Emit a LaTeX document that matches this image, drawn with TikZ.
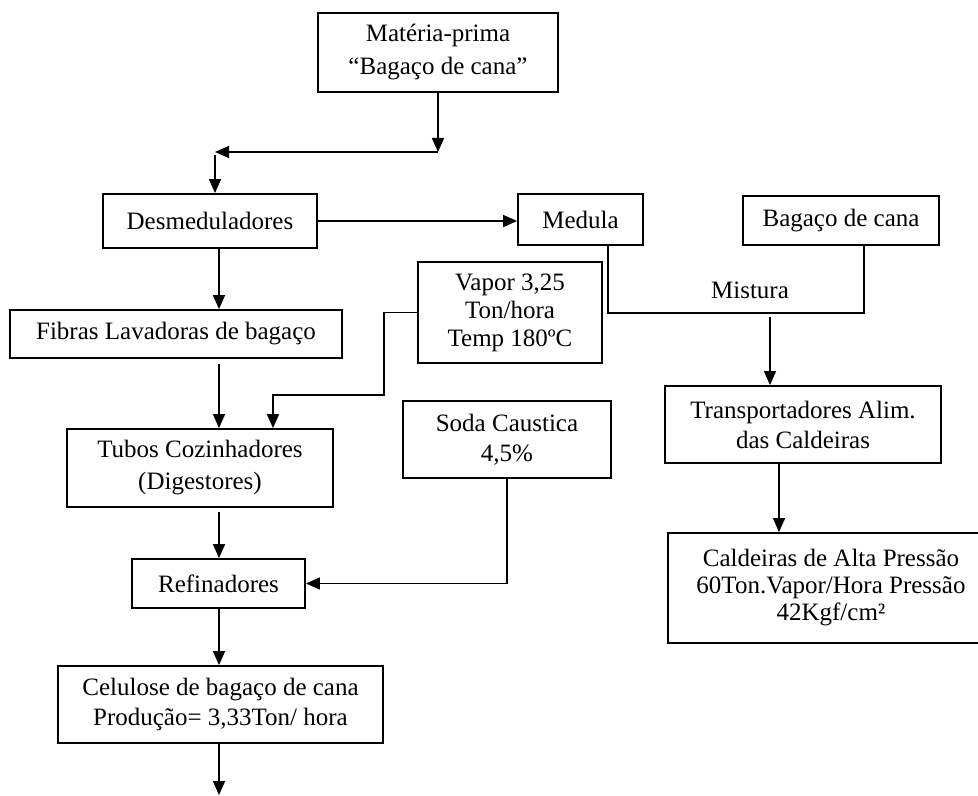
\documentclass[tikz,border=0pt]{standalone}
\usepackage{fontspec}
\setmainfont{Liberation Serif}
\usetikzlibrary{arrows.meta}

\tikzset{
	box/.style={rectangle, draw, line width=0.9pt, inner sep=0pt, align=center, font=\fontsize{12.5}{15}\selectfont},
	lbl/.style={inner sep=0pt, font=\fontsize{12.5}{15}\selectfont},
	flow/.style={line width=0.8pt, -{Triangle[length=7pt, width=6pt]}},
	link/.style={line width=0.8pt},
}

\begin{document}
\begin{tikzpicture}[x=0.5pt, y=-0.5pt, node distance=50pt]
			\useasboundingbox (0,0) rectangle (978,796);

			\node[box, minimum width=120pt, minimum height=39.5pt, font=\fontsize{12.5}{16.5}\selectfont] (mp) at (438,52.5) {Matéria-prima\\“Bagaço de cana”};
			\node[box, minimum width=107pt, minimum height=27pt] (desm)[below of = mp, xshift=-114, yshift=-34.25] {Desmeduladores};
			\node[box, minimum width=62.5pt, minimum height=25.5pt] (medula)[right of = desm, xshift=135.25, yshift=0.75] {Medula};
			\node[box, minimum width=98pt, minimum height=24.5pt] (bagaco)[right of = medula, xshift=80.25, yshift=-0.5] {Bagaço de cana};
			\node[box, minimum width=166pt, minimum height=24pt] (fibras)[below of = desm, xshift=-17, yshift=-6.5] {Fibras Lavadoras de bagaço};
			\node[box, minimum width=92pt, minimum height=50.5pt, font=\fontsize{12.5}{14}\selectfont] (vapor)[below of = medula, xshift=-35.25, yshift=3.5] {Vapor 3,25\\Ton/hora\\Temp 180ºC};
			\node[box, minimum width=133pt, minimum height=39pt, font=\fontsize{12.5}{16}\selectfont] (tubos)[below of = fibras, xshift=12, yshift=-17] {Tubos Cozinhadores\\(Digestores)};
			\node[box, minimum width=104pt, minimum height=38.5pt] (soda)[below of = vapor, xshift=-1.5, yshift=-13.5] {Soda Caustica\\4,5\%};
			\node[box, minimum width=86.5pt, minimum height=24.5pt] (refin)[below of = tubos, xshift=9.25, yshift=-7.75] {Refinadores};
			\node[box, minimum width=162.5pt, minimum height=38.5pt] (celul)[below of = refin, xshift=1, yshift=-10.5] {Celulose de bagaço de cana\\Produção= 3,33Ton/ hora};
			\node[box, minimum width=138pt, minimum height=38.5pt] (transp)[below of = bagaco, xshift=-19, yshift=-52] {Transportadores Alim.\\das Caldeiras};
			\node[box, minimum width=163pt, minimum height=55pt, font=\fontsize{12.5}{13.5}\selectfont] (cald)[below of = transp, xshift=14, yshift=-31.75] {Caldeiras de Alta Pressão\\60Ton.Vapor/Hora Pressão\\42Kgf/cm²};

			\node[lbl] (mist) at (750,290) {Mistura};

			\coordinate (col) at (219,0);
			\coordinate (j1) at (438,152);
			\coordinate (j2) at (215,152);
			\coordinate (v1) at (384,395);
			\coordinate (v2) at (273,395);
			\coordinate (m2) at (864,313);
			\coordinate (m3) at (770,317);
			\coordinate (t1) at ([xshift=-12pt]transp.south);
			\coordinate (out) at (219,795);

			\path[flow]
				(mp.south) edge (j1)
				(j1) edge (j2)
				([yshift=-1.5pt]j2) edge (j2 |- desm.north)
				(desm.east) edge (desm.east -| medula.west)
				(col |- desm.south) edge (col |- fibras.north)
				(col |- fibras.south) edge[shorten <=2.5pt] (col |- tubos.north)
				(col |- tubos.south) edge[shorten <=2pt] (col |- refin.north)
				(col |- refin.south) edge (col |- celul.north)
				(col |- celul.south) edge (out)
				(m3) edge (m3 |- transp.north)
				(t1) edge (t1 |- cald.north)
			;

			\draw[flow] (vapor.west) -| (v1) -- (v2) -- (v2 |- tubos.north);
			\draw[flow] (soda.south) |- (refin.east);
			\draw[link] ([xshift=13.75pt]medula.south) |- (m2) -- (m2 |- bagaco.south);
		\end{tikzpicture}
\end{document}
